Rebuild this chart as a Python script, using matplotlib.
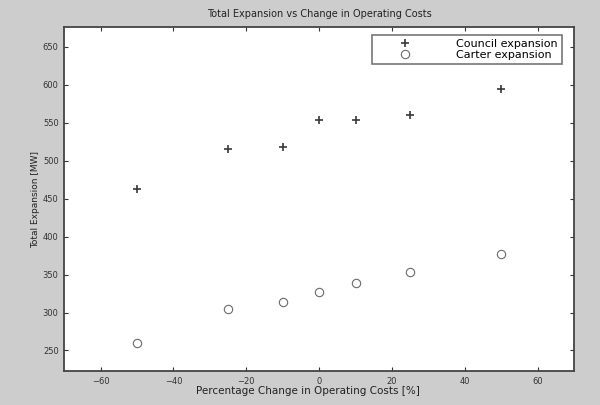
import matplotlib
matplotlib.use("Agg")
import matplotlib.pyplot as plt

# data
cost_change = [-50, -25, -10, 0, 10, 25, 50]
council_mw = [463, 516, 518, 554, 554, 560, 594]
carter_mw = [260, 305, 314, 327, 339, 353, 377]
x_ticks = [-60, -40, -20, 0, 20, 40, 60]
y_ticks = [250, 300, 350, 400, 450, 500, 550, 600, 650]

plt.rcParams['font.family'] = ['DejaVu Sans']

fig = plt.figure(figsize=(6, 4.05), dpi=100, facecolor='#cdcdcd')
ax = fig.add_axes([0.107, 0.084, 0.85, 0.849])
ax.set_facecolor('white')

ax.plot(cost_change, council_mw, linestyle='none', marker='+', markersize=5.5,
        markeredgewidth=1.2, color='#3a3a3a', label='Council expansion')
ax.plot(cost_change, carter_mw, linestyle='none', marker='o', markersize=6,
        markerfacecolor='none', markeredgewidth=0.8, color='#6a6a6a',
        label='Carter expansion')

ax.set_xlim(-70, 70)
ax.set_ylim(223, 676)
ax.set_xticks(x_ticks)
ax.set_yticks(y_ticks)
ax.tick_params(direction='in', top=True, right=True, length=3, width=0.8,
               labelsize=6, colors='#333333', pad=4)
for s in ax.spines.values():
    s.set_linewidth(1.3)
    s.set_color('#444444')

ax.set_title('Total Expansion vs Change in Operating Costs', fontsize=7,
             color='#222222', pad=7)
ax.set_xlabel('Percentage Change in Operating Costs [%]', fontsize=7.5,
              color='#222222', labelpad=1)
ax.xaxis.set_label_coords(0.477, -0.045)
ax.set_ylabel('Total Expansion [MW]', fontsize=6.5, color='#222222', labelpad=2)

leg = ax.legend(loc='upper right', bbox_to_anchor=(0.976, 0.977), fontsize=8,
                frameon=True, fancybox=False, edgecolor='#555555',
                borderaxespad=0, handlelength=5.15, handletextpad=2.07,
                borderpad=0.35, labelspacing=0.1, markerfirst=True)
leg.get_frame().set_linewidth(1.2)

fig.savefig('out.png', dpi=100, facecolor=fig.get_facecolor())
